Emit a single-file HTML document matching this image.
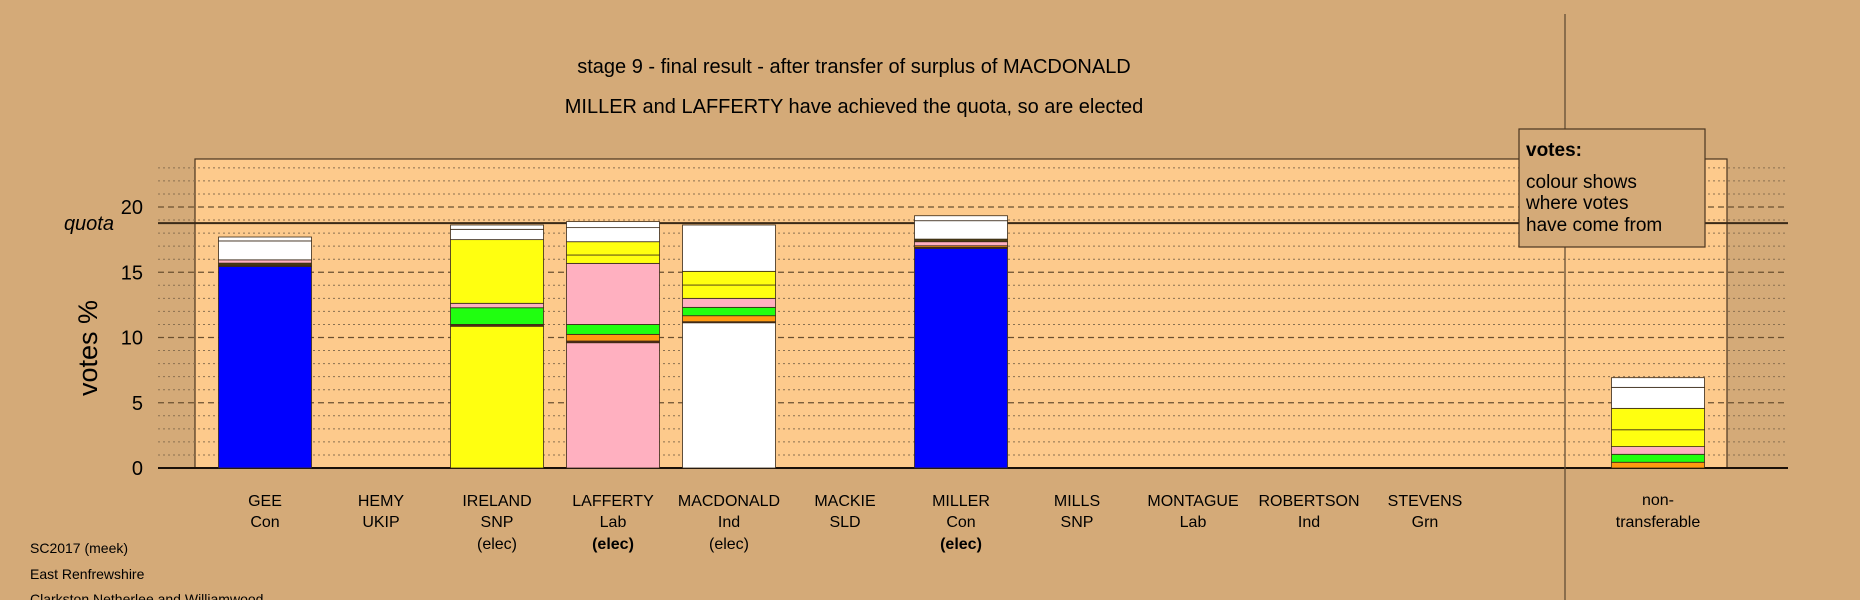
<!DOCTYPE html>
<html><head><meta charset="utf-8"><style>
html,body{margin:0;padding:0;background:#d4aa78;}
svg{display:block;font-family:"Liberation Sans",Arial,sans-serif;}
</style></head><body>
<svg id="chart" width="1860" height="600" viewBox="0 0 1860 600" xmlns="http://www.w3.org/2000/svg">
<rect x="0" y="0" width="1860" height="600" fill="#d4aa78"/>
<rect x="195" y="159" width="1532" height="309" fill="#fdca8c" stroke="#4a3520" stroke-width="1.2"/>
<g id="grid"></g>
<g id="bars"></g>
<g id="labels"></g>
<g id="yticks"></g>
<line x1="1565" y1="14" x2="1565" y2="600" stroke="#5a4530" stroke-width="1.2"/>
<text x="854" y="73" font-size="20" text-anchor="middle" fill="#000">stage 9 - final result - after transfer of surplus of MACDONALD</text>
<text x="854" y="113" font-size="20" text-anchor="middle" fill="#000">MILLER and LAFFERTY have achieved the quota, so are elected</text>
<text transform="translate(97,348) rotate(-90)" font-size="27" text-anchor="middle" fill="#000">votes %</text>
<text x="30" y="553" font-size="14" fill="#000">SC2017 (meek)</text>
<text x="30" y="579" font-size="14" fill="#000">East Renfrewshire</text>
<text x="30" y="604" font-size="14" fill="#000">Clarkston Netherlee and Williamwood</text>
<g>
<rect x="1519" y="129" width="186" height="118" fill="#d4aa78" stroke="#4a3520" stroke-width="1.2"/>
<text x="1526" y="156" font-size="19" font-weight="bold" fill="#000">votes:</text>
<text x="1526" y="188" font-size="19" fill="#000">colour shows</text>
<text x="1526" y="209" font-size="19" fill="#000">where votes</text>
<text x="1526" y="231" font-size="19" fill="#000">have come from</text>
</g>
</svg>
<script>
const candidates = ["GEE","HEMY","IRELAND","LAFFERTY","MACDONALD","MACKIE","MILLER","MILLS","MONTAGUE","ROBERTSON","STEVENS"];
const parties = ["Con","UKIP","SNP","Lab","Ind","SLD","Con","SNP","Lab","Ind","Grn"];
const status = ["","","(elec)","(elec)","(elec)","","(elec)","","","",""];
const statusBold = [false,false,false,true,false,false,true,false,false,false,false];
// stacked segments per candidate, bottom to top: values (%) and colours
const segValues = [
  [15.45,0.1,0.15,0.25,1.45,0.3],
  [],
  [10.86,0.14,1.28,0.34,4.88,0.79,0.33],
  [9.6,0.13,0.51,0.76,4.68,0.64,1.02,1.08,0.46],
  [11.13,0.08,0.46,0.64,0.69,1.02,1.05,3.55],
  [],
  [16.83,0.08,0.12,0.31,0.2,1.41,0.38],
  [],[],[],[]
];
const segColors = [
  ["#0000ff","#5a2a10","#4a4010","#ffb0c0","#ffffff","#ffffff"],
  [],
  ["#ffff10","#5a2a10","#20ff10","#ffb0c0","#ffff10","#ffffff","#ffffff"],
  ["#ffb0c0","#5a2a10","#ff9a10","#20ff10","#ffb0c0","#ffff10","#ffff10","#ffffff","#ffffff"],
  ["#ffffff","#5a2a10","#ff9a10","#20ff10","#ffb0c0","#ffff10","#ffff10","#ffffff"],
  [],
  ["#0000ff","#5a2a10","#ff9a10","#ffb0c0","#4a4010","#ffffff","#ffffff"],
  [],[],[],[]
];
const ntValues = [0.44,0.61,0.59,1.29,1.64,1.61,0.74];
const ntColors = ["#ff9a10","#20ff10","#ffb0c0","#ffff10","#ffff10","#ffffff","#ffffff"];
const quota = 18.76;
const yTicks = [0,5,10,15,20];
const yMax = 23;

const NS="http://www.w3.org/2000/svg";
const y0=468, pxPerUnit=13.05;
function yScale(v){return y0 - v*pxPerUnit;}
function xScale(i){return 265 + i*116;}
const ntX = 1658, barW = 93;
function mk(tag, attrs, parent){const e=document.createElementNS(NS,tag);for(const k in attrs)e.setAttribute(k,attrs[k]);parent.appendChild(e);return e;}

const grid=document.getElementById('grid');
for(let v=1; v<=yMax; v++){
  const major = v%5===0;
  const l=mk('line',{x1:158,x2:1788,y1:yScale(v),y2:yScale(v),stroke:major?'#6a5030':'#8a7050','stroke-width':major?1.3:1,'stroke-dasharray':major?'6,4':'2,3'},grid);
  
  
}
const ql=mk('line',{x1:158,x2:1788,y1:yScale(quota),y2:yScale(quota),stroke:'#3a2a18','stroke-width':2},grid);



const bars=document.getElementById('bars');
function stack(vals, cols, cx, name){
  let acc=0;
  vals.forEach((v,j)=>{
    const yt=yScale(acc+v), yb=yScale(acc);
    const r=mk('rect',{x:cx-barW/2,y:yt,width:barW,height:Math.max(yb-yt,0.5),fill:cols[j],stroke:'#3a2a18','stroke-width':0.8},bars);
    
    
    acc+=v;
  });
}
candidates.forEach((c,i)=>stack(segValues[i],segColors[i],xScale(i),'bar-'+c.toLowerCase()));
stack(ntValues,ntColors,ntX,'bar-non-transferable');

const ax=mk('line',{x1:158,x2:1788,y1:y0,y2:y0,stroke:'#1a1008','stroke-width':2},grid);



const yt=document.getElementById('yticks');
yTicks.forEach(v=>{
  const t=mk('text',{x:143,y:yScale(v)+7,'font-size':20,'text-anchor':'end',fill:'#000'},yt);
  t.textContent=v;
  
  
});
const qt=mk('text',{x:114,y:yScale(quota)+7,'font-size':20,'font-style':'italic','text-anchor':'end',fill:'#000'},yt);
qt.textContent='quota';



const lb=document.getElementById('labels');
candidates.forEach((c,i)=>{
  const x=xScale(i);
  const t1=mk('text',{x:x,y:506,'font-size':16,'text-anchor':'middle',fill:'#000'},lb);
  t1.textContent=c;
  
  
  const t2=mk('text',{x:x,y:527,'font-size':16,'text-anchor':'middle',fill:'#000'},lb);
  t2.textContent=parties[i];
  
  
  if(status[i]){
    const t3=mk('text',{x:x,y:549,'font-size':16,'text-anchor':'middle',fill:'#000','font-weight':statusBold[i]?'bold':'normal'},lb);
    t3.textContent=status[i];
    
    
  }
});
const n1=mk('text',{x:ntX,y:505,'font-size':16,'text-anchor':'middle',fill:'#000'},lb);
n1.textContent='non-';


const n2=mk('text',{x:ntX,y:527,'font-size':16,'text-anchor':'middle',fill:'#000'},lb);
n2.textContent='transferable';


</script>
</body></html>
